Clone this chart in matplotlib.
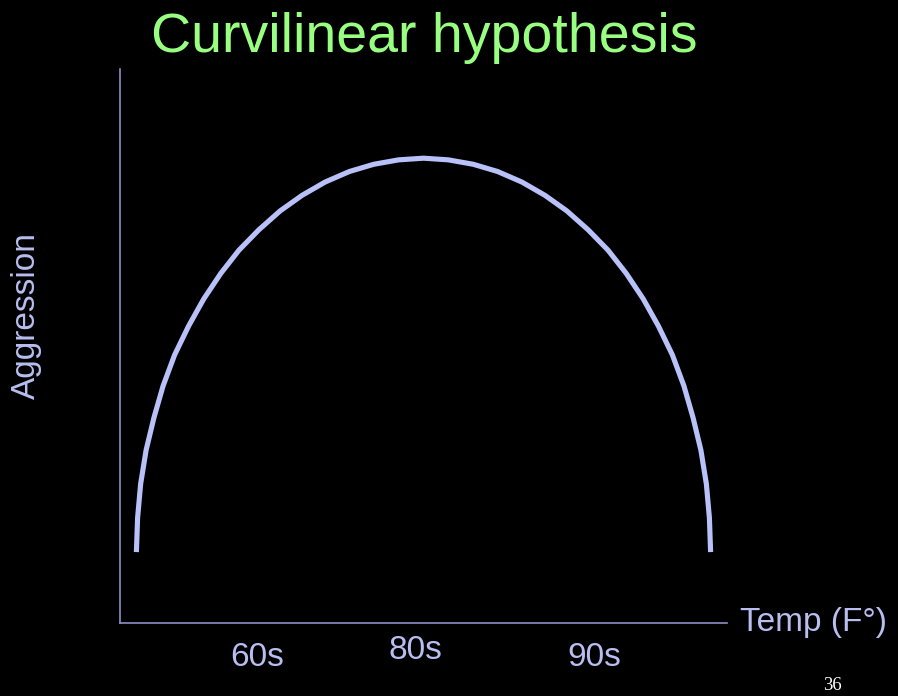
import matplotlib.pyplot as plt

plt.rcParams['font.family'] = ['Liberation Sans', 'DejaVu Sans']

# points (x: 0-100 across the temp axis, y: 0-100 up the aggression axis)
temp = [2.7, 2.9, 3.4, 4.3, 5.6, 7.1, 9.0, 11.3, 13.8, 16.6, 19.6, 22.9, 26.4, 30.0, 33.8, 37.8,
        41.8, 45.9, 50.0, 54.1, 58.2, 62.2, 66.2, 70.0, 73.6, 77.1, 80.4, 83.4, 86.2, 88.7,
        91.0, 92.9, 94.4, 95.7, 96.6, 97.1, 97.3]
aggression = [12.8, 19.0, 25.1, 31.2, 37.1, 42.8, 48.4, 53.6, 58.5, 63.1, 67.3, 71.0, 74.4, 77.2,
              79.6, 81.5, 82.8, 83.6, 83.9, 83.6, 82.8, 81.5, 79.6, 77.2, 74.4, 71.0, 67.3, 63.1,
              58.5, 53.6, 48.4, 42.8, 37.1, 31.2, 25.1, 19.0, 12.8]

tick_labels = ['60s', '80s', '90s']
tick_pos = [22.6, 48.6, 78.2]
tick_drop = [0, -1, 0]

curve_col = '#B9C1F9'
text_col = '#B8BEF0'
axis_col = '#8C90C0'

fig = plt.figure(figsize=(8.98, 6.96), dpi=100, facecolor='black')
ax = fig.add_axes([120 / 898, 1 - 623 / 696, 607 / 898, 554 / 696], facecolor='black')

ax.plot(temp, aggression, color=curve_col, linewidth=3.7, solid_capstyle='butt', solid_joinstyle='round')

ax.set_xlim(0, 100)
ax.set_ylim(0, 100)
for s in ['top', 'right']:
    ax.spines[s].set_visible(False)
for s in ['left', 'bottom']:
    ax.spines[s].set_color(axis_col)
    ax.spines[s].set_linewidth(1.2)
ax.set_xticks([])
ax.set_yticks([])

# labels under the axis
for lab, p, d in zip(tick_labels, tick_pos, tick_drop):
    ax.text(p, -7.8 - d * 1.3, lab, color=text_col, fontsize=24, ha='center', va='baseline',
            clip_on=False)

fig.text(740 / 898, 1 - 631 / 696, 'Temp (F°)', color=text_col, fontsize=24, ha='left', va='baseline')
fig.text(26 / 898, 1 - 316 / 696, 'Aggression', color=text_col, fontsize=24, rotation=90,
         ha='center', va='center')

fig.text(424 / 898, 1 - 52 / 696, 'Curvilinear hypothesis', color='#99FF80', fontsize=40,
         ha='center', va='baseline')

fig.text(832 / 898, 1 - 690 / 696, '36', color='white', fontsize=13.5, family='Liberation Serif',
         ha='center', va='baseline')

fig.savefig('out.png', dpi=100, facecolor='black')
